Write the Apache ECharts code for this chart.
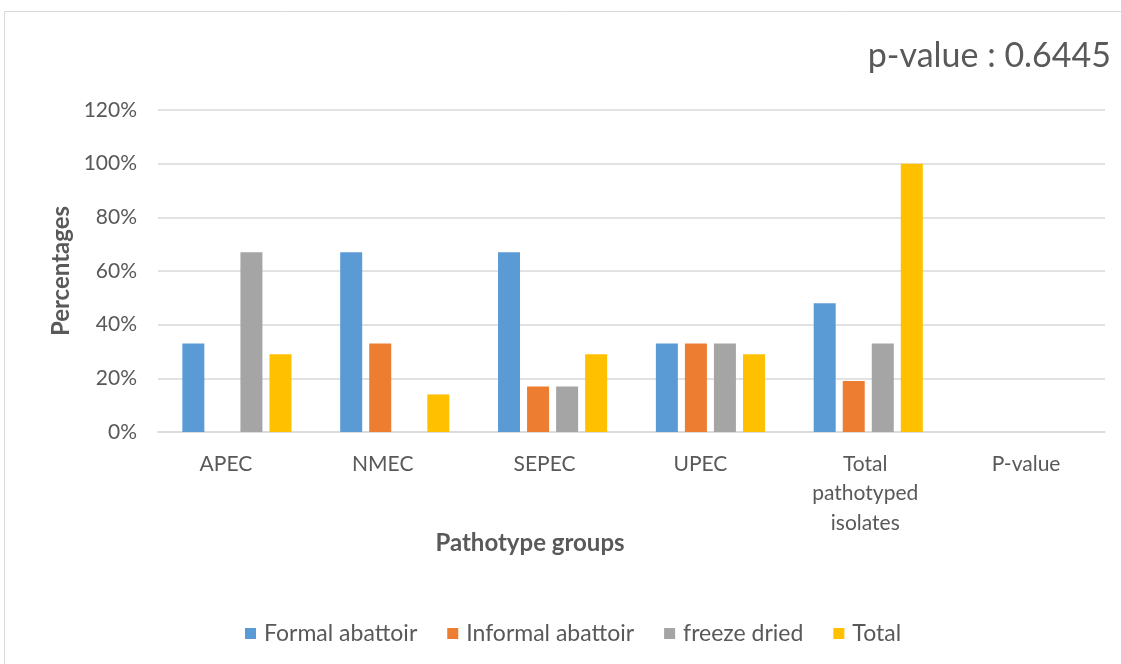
<!DOCTYPE html>
<html>
<head>
<meta charset="utf-8">
<script src="https://cdn.jsdelivr.net/npm/echarts@6/dist/echarts.min.js"></script>
<style>
  html, body { margin: 0; padding: 0; background: #ffffff; }
  #chart { width: 1121px; height: 664px; }
</style>
</head>
<body>
<div id="chart"></div>
<script>
// Pathotype groups on the category axis
const categories = ['APEC', 'NMEC', 'SEPEC', 'UPEC', 'Total\npathotyped\nisolates', 'P-value'];

// Percentages per source (null = no bar)
const formalAbattoir   = [33, 67, 67, 33, 48, null];
const informalAbattoir = [null, 33, 17, 33, 19, null];
const freezeDried      = [67, null, 17, 33, 33, null];
const totalValues      = [29, 14, 29, 29, 100, null];

const yTicks = [0, 20, 40, 60, 80, 100, 120];

const seriesNames = ['Formal abattoir', 'Informal abattoir', 'freeze dried', 'Total'];
const seriesColors = ['#5b9bd5', '#ed7d31', '#a5a5a5', '#ffc000'];
const seriesData = [formalAbattoir, informalAbattoir, freezeDried, totalValues];

const FONT = 'Lato, "Open Sans", sans-serif';
const TEXT = '#595959';

// single-line category labels sit a little left of the group centre
const labelPadRight = [22, 24, 16, 20, 6, 0];
const axisData = categories.map((c, i) => ({
  value: c,
  textStyle: { padding: [0, labelPadRight[i], 0, 0] }
}));

const chart = echarts.init(document.getElementById('chart'), null, { renderer: 'canvas' });

chart.setOption({
  animation: false,
  backgroundColor: '#ffffff',
  textStyle: { fontFamily: FONT, color: TEXT },
  grid: { left: 158, right: 16, top: 110, bottom: 232, containLabel: false },
  legend: {
    top: 617,
    left: 240,
    itemWidth: 11,
    itemHeight: 11,
    itemGap: 30,
    icon: 'rect',
    textStyle: { fontFamily: FONT, fontSize: 23, color: TEXT, padding: [0, 0, 0, 3] },
    data: seriesNames
  },
  xAxis: {
    type: 'category',
    data: axisData,
    axisLine: { lineStyle: { color: '#d9d9d9', width: 1.5 } },
    axisTick: { show: false },
    axisLabel: {
      fontFamily: FONT, fontSize: 21, color: TEXT,
      margin: 17, lineHeight: 29.5, interval: 0
    }
  },
  yAxis: {
    type: 'value',
    min: yTicks[0],
    max: yTicks[yTicks.length - 1],
    interval: 20,
    axisLine: { show: false },
    axisTick: { show: false },
    splitLine: { lineStyle: { color: '#d9d9d9', width: 1.5 } },
    axisLabel: {
      fontFamily: FONT, fontSize: 21, color: TEXT, margin: 21,
      formatter: v => v + '%'
    }
  },
  series: seriesNames.map((name, i) => ({
    name,
    type: 'bar',
    data: seriesData[i],
    barWidth: 22,
    barGap: '32%',
    itemStyle: { color: seriesColors[i] }
  })),
  graphic: [
    {
      type: 'rect',
      shape: { x: 4.5, y: 11.5, width: 1130, height: 700 },
      style: { fill: 'none', stroke: '#d9d9d9', lineWidth: 1 },
      silent: true
    },
    {
      type: 'text',
      right: 10,
      top: 39,
      style: { text: 'p-value : 0.6445', font: '34px ' + FONT, fill: TEXT }
    },
    {
      type: 'text',
      x: 61,
      y: 271,
      rotation: Math.PI / 2,
      style: {
        text: 'Percentages', font: 'bold 24px ' + FONT, fill: TEXT,
        align: 'center', verticalAlign: 'middle'
      }
    },
    {
      type: 'text',
      x: 530,
      y: 543,
      style: {
        text: 'Pathotype groups', font: 'bold 24px ' + FONT, fill: TEXT,
        align: 'center', verticalAlign: 'middle'
      }
    }
  ]
});
</script>
</body>
</html>
